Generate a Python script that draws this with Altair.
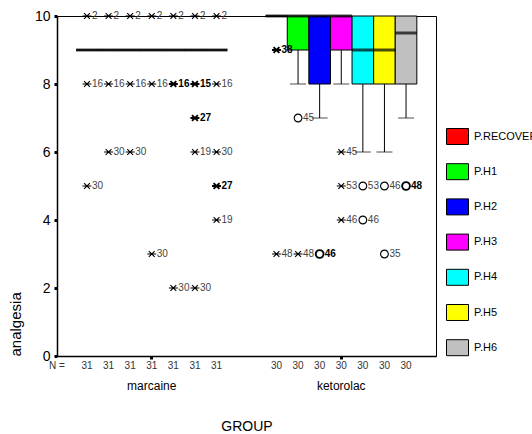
import altair as alt
import pandas as pd

FONT = "Liberation Sans"

groups = ["marcaine", "ketorolac"]
series = ["P.RECOVER", "P.H1", "P.H2", "P.H3", "P.H4", "P.H5", "P.H6"]
colors = ["#FF0000", "#00FF00", "#0000FF", "#FF00FF", "#00FFFF", "#FFFF00", "#C0C0C0"]

# box statistics, in series order
q1_marcaine = [9, 9, 9, 9, 9, 9, 9]
med_marcaine = [9, 9, 9, 9, 9, 9, 9]
q3_marcaine = [9, 9, 9, 9, 9, 9, 9]
wlo_marcaine = [9, 9, 9, 9, 9, 9, 9]
n_marcaine = [31, 31, 31, 31, 31, 31, 31]

q1_ketorolac = [10, 9, 8, 9, 8, 8, 8]
med_ketorolac = [10, 10, 10, 10, 9, 9, 9.5]
q3_ketorolac = [10, 10, 10, 10, 10, 10, 10]
wlo_ketorolac = [10, 8, 7, 8, 6, 6, 7]
n_ketorolac = [30, 30, 30, 30, 30, 30, 30]

# outliers (o) and extremes (x)
out_group = ["marcaine"] * 25 + ["ketorolac"] * 13
out_series = [
    "P.RECOVER", "P.RECOVER", "P.RECOVER",
    "P.H1", "P.H1", "P.H1",
    "P.H2", "P.H2", "P.H2",
    "P.H3", "P.H3", "P.H3",
    "P.H4", "P.H4", "P.H4",
    "P.H5", "P.H5", "P.H5", "P.H5", "P.H5",
    "P.H6", "P.H6", "P.H6", "P.H6", "P.H6",
    "P.RECOVER", "P.RECOVER",
    "P.H1", "P.H1",
    "P.H2",
    "P.H3", "P.H3", "P.H3",
    "P.H4", "P.H4",
    "P.H5", "P.H5",
    "P.H6",
]
out_value = [
    10, 8, 5,
    10, 8, 6,
    10, 8, 6,
    10, 8, 3,
    10, 8, 2,
    10, 8, 7, 6, 2,
    10, 8, 6, 5, 4,
    9, 3,
    7, 3,
    3,
    6, 5, 4,
    5, 4,
    5, 3,
    5,
]
out_label = [
    "2", "16", "30",
    "2", "16", "30",
    "2", "16", "30",
    "2", "16", "30",
    "2", "16", "30",
    "2", "15", "27", "19", "30",
    "2", "16", "30", "27", "19",
    "38", "48",
    "45", "48",
    "46",
    "45", "53", "46",
    "53", "46",
    "46", "35",
    "48",
]
out_kind = [
    "x", "x", "x",
    "x", "x", "x",
    "x", "x", "x",
    "x", "x", "x",
    "x", "x", "x",
    "x", "x", "x", "x", "x",
    "x", "x", "x", "x", "x",
    "x", "x",
    "o", "x",
    "o",
    "x", "x", "x",
    "o", "o",
    "o", "o",
    "o",
]
out_bold = [
    0, 0, 0,
    0, 0, 0,
    0, 0, 0,
    0, 0, 0,
    0, 1, 0,
    0, 1, 1, 0, 0,
    0, 0, 0, 1, 0,
    1, 0,
    0, 0,
    1,
    0, 0, 0,
    0, 0,
    0, 0,
    1,
]

boxes = pd.DataFrame({
    "group": ["marcaine"] * 7 + ["ketorolac"] * 7,
    "series": series + series,
    "q1": q1_marcaine + q1_ketorolac,
    "med": med_marcaine + med_ketorolac,
    "q3": q3_marcaine + q3_ketorolac,
    "wlo": wlo_marcaine + wlo_ketorolac,
    "n": [str(v) for v in n_marcaine + n_ketorolac],
})
outs = pd.DataFrame({
    "group": out_group, "series": out_series, "value": out_value,
    "label": out_label, "kind": out_kind, "bold": out_bold,
})
outs["sw"] = outs["bold"].map({0: 1.1, 1: 1.9})

STAR = "M-0.65,-0.65L0.65,0.65M-0.65,0.65L0.65,-0.65M-1,0L1,0"

X = alt.X("group:N", sort=groups, scale=alt.Scale(paddingInner=0, paddingOuter=0),
          axis=alt.Axis(title="GROUP", labelAngle=0, labelFontSize=12, labelPadding=21,
                        labelColor="black", titleFontSize=14, titleFontWeight="normal",
                        titlePadding=28, tickSize=3, tickWidth=3, tickColor="black",
                        domainColor="black", domainWidth=1.5))
XO = alt.XOffset("series:N", sort=series, scale=alt.Scale(paddingInner=0, paddingOuter=0.887))
YS = alt.Scale(domain=[0, 10], nice=False, zero=False)

base_b = alt.Chart(boxes)

bars = base_b.mark_bar(stroke="black", strokeWidth=1, opacity=1).encode(
    x=X, xOffset=XO,
    y=alt.Y("q1:Q", scale=YS,
            axis=alt.Axis(title="analgesia", values=[0, 2, 4, 6, 8, 10], grid=False,
                          labelFontSize=14, labelColor="black", labelPadding=4,
                          tickSize=3, tickWidth=3, tickColor="black",
                          domainColor="black", domainWidth=1.5,
                          titleFontSize=15, titleFontWeight="normal",
                          titleAngle=270, titleAlign="left", titleY=340, titleX=-42,
                          titleBaseline="middle")),
    y2="q3:Q",
    color=alt.Color("series:N", sort=series,
                    scale=alt.Scale(domain=series, range=colors),
                    legend=alt.Legend(title=None, orient="none", legendX=389, legendY=109,
                                      padding=0, offset=0,
                                      symbolType="M-1,-0.727H1V0.727H-1Z", symbolSize=484,
                                      symbolStrokeColor="black", symbolStrokeWidth=1,
                                      symbolOpacity=1, rowPadding=13.2, labelOffset=5,
                                      labelFontSize=11, labelColor="black")),
)

whisk = base_b.transform_filter("datum.wlo < datum.q1").mark_rule(
    color="black", strokeWidth=1).encode(x=X, xOffset=XO, y=alt.Y("wlo:Q", scale=YS), y2="q1:Q")

caps = base_b.transform_filter("datum.wlo < datum.q1").mark_tick(
    color="black", thickness=1, size=16).encode(x=X, xOffset=XO, y=alt.Y("wlo:Q", scale=YS))

medians = base_b.mark_tick(color="black", thickness=3, size=21.8).encode(
    x=X, xOffset=XO, y=alt.Y("med:Q", scale=YS))

nlabels = base_b.mark_text(fontSize=10, color="#333", dy=10, baseline="middle").encode(
    x=X, xOffset=XO, y=alt.datum(0), text="n:N")

nhead = alt.Chart(pd.DataFrame({"t": ["N ="]})).mark_text(
    fontSize=10, color="#333", dy=10, baseline="middle", align="center").encode(
    x=alt.value(0), y=alt.datum(0, type="quantitative"), text="t:N")

base_o = alt.Chart(outs)
stars = base_o.transform_filter("datum.kind == 'x'").mark_point(
    shape=STAR, size=81, filled=False, color="black", opacity=1).encode(
    x=X, xOffset=XO, y=alt.Y("value:Q", scale=YS),
    strokeWidth=alt.StrokeWidth("sw:Q", scale=None))
circles = base_o.transform_filter("datum.kind == 'o'").mark_point(
    shape="circle", size=60, filled=False, color="black", opacity=1).encode(
    x=X, xOffset=XO, y=alt.Y("value:Q", scale=YS),
    strokeWidth=alt.StrokeWidth("sw:Q", scale=None))

lab_norm = base_o.transform_filter("datum.bold == 0").mark_text(
    align="left", baseline="middle", dx=5, fontSize=10, color="#444").encode(
    x=X, xOffset=XO, y=alt.Y("value:Q", scale=YS), text="label:N")
lab_bold = base_o.transform_filter("datum.bold == 1").mark_text(
    align="left", baseline="middle", dx=5, fontSize=10, fontWeight="bold", color="black").encode(
    x=X, xOffset=XO, y=alt.Y("value:Q", scale=YS), text="label:N")

chart = alt.layer(
    bars, whisk, caps, medians, stars, circles, lab_norm, lab_bold, nlabels, nhead
).properties(
    width=379, height=340,
    autosize=alt.AutoSizeParams(type="none"),
    padding={"left": 57, "top": 16, "right": 96, "bottom": 78},
).configure(font=FONT).configure_view(
    stroke="black", strokeWidth=1
).configure_axis(grid=False)

chart.save("out.html", embed_options={"renderer": "svg", "actions": False})
